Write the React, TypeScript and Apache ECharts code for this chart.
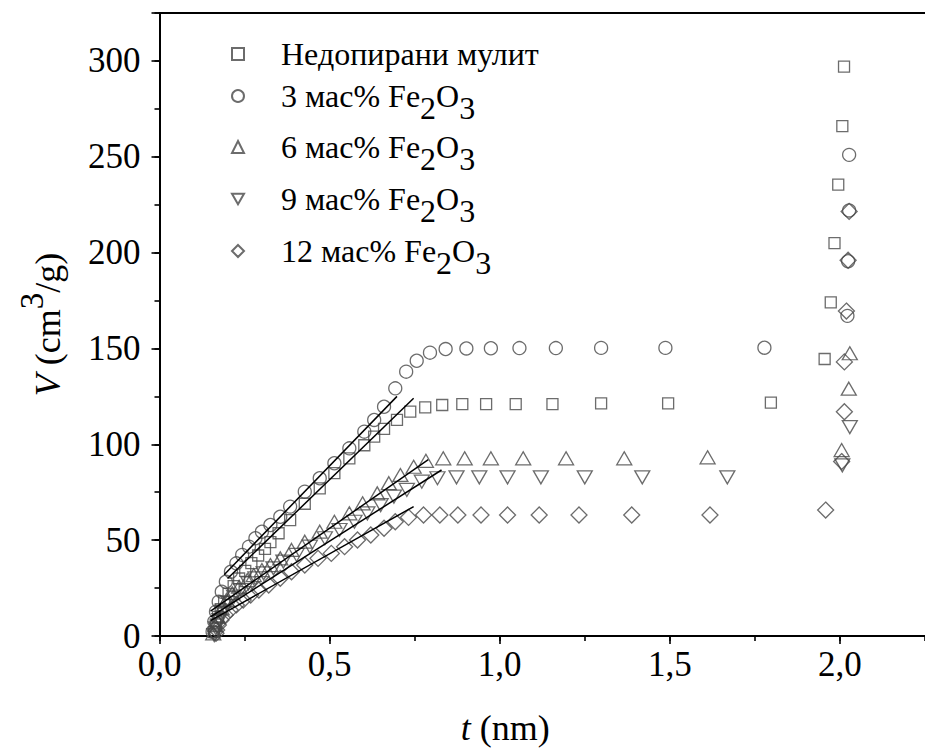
import React, { useEffect, useRef } from "react";
import * as echarts from "echarts";

const FONT = "'Liberation Serif', 'Times New Roman', serif";

// Series names
const seriesNames = [
  "Недопирани мулит",
  "3 мас% Fe2O3",
  "6 мас% Fe2O3",
  "9 мас% Fe2O3",
  "12 мас% Fe2O3",
];

// Недопирани мулит (squares)
const nedT = [0.16, 0.165, 0.172, 0.18, 0.19, 0.203, 0.218, 0.234, 0.252, 0.27, 0.29, 0.31, 0.326, 0.35, 0.384, 0.427, 0.471, 0.514, 0.558, 0.602, 0.631, 0.66, 0.698, 0.737, 0.781, 0.831, 0.89, 0.96, 1.047, 1.155, 1.298, 1.495, 1.797, 1.955, 1.973, 1.984, 1.995, 2.007, 2.012];
const nedV = [2, 6, 10, 14, 18, 22, 26, 30, 34, 38, 42, 45.5, 49, 53.6, 60.5, 69, 77, 85, 92.7, 99.5, 104, 108, 112.7, 117, 119.3, 120.5, 121, 121, 121, 121, 121.4, 121.4, 121.7, 144.5, 174, 205, 235.5, 266, 297];

// 3 мас% Fe2O3 (circles)
const fe3T = [0.156, 0.161, 0.166, 0.174, 0.183, 0.195, 0.21, 0.226, 0.243, 0.263, 0.282, 0.301, 0.326, 0.355, 0.384, 0.427, 0.471, 0.514, 0.558, 0.602, 0.631, 0.66, 0.693, 0.725, 0.756, 0.795, 0.841, 0.902, 0.974, 1.058, 1.165, 1.298, 1.487, 1.778, 2.022, 2.024, 2.027, 2.027];
const fe3V = [2.2, 7.5, 12.7, 17.9, 23.1, 28.3, 33.5, 37.9, 42.3, 46.6, 51, 54.4, 57.9, 62.2, 67.5, 75.3, 82.3, 90.1, 97.9, 106.6, 112.7, 119.6, 129.2, 137.9, 143.6, 147.8, 149.7, 150, 150.1, 150.2, 150.2, 150.3, 150.3, 150.4, 167, 195.5, 222, 251];

// 6 мас% Fe2O3 (triangles)
const fe6T = [0.158, 0.164, 0.171, 0.183, 0.197, 0.214, 0.234, 0.258, 0.277, 0.301, 0.326, 0.355, 0.388, 0.427, 0.471, 0.514, 0.558, 0.597, 0.64, 0.674, 0.708, 0.747, 0.783, 0.834, 0.897, 0.974, 1.069, 1.195, 1.366, 1.611, 2.005, 2.026, 2.029];
const fe6V = [1.4, 5.7, 10, 14.4, 18.8, 22.3, 25.7, 29.2, 31.8, 34.4, 37, 40.5, 44.9, 49.2, 54.4, 59.6, 64, 69.2, 74.4, 79.7, 84, 88.3, 91.4, 92.7, 92.7, 92.7, 92.7, 92.7, 92.7, 93.2, 97, 129, 147.5];

// 9 мас% Fe2O3 (inverted triangles)
const fe9T = [0.161, 0.166, 0.176, 0.187, 0.203, 0.219, 0.239, 0.261, 0.282, 0.306, 0.335, 0.364, 0.403, 0.442, 0.486, 0.529, 0.573, 0.611, 0.65, 0.689, 0.727, 0.771, 0.817, 0.873, 0.94, 1.023, 1.121, 1.25, 1.419, 1.669, 2.007, 2.029];
const fe9V = [0.5, 4, 8.3, 12.7, 17.1, 20.5, 24, 27.5, 30.1, 32.7, 35.3, 38.8, 42.3, 46.6, 51, 55.3, 59.6, 64, 68.3, 72.7, 76.2, 80.5, 82.3, 82.8, 82.8, 82.8, 82.8, 82.8, 82.8, 82.8, 89, 109];

// 12 мас% Fe2O3 (diamonds)
const fe12T = [0.166, 0.168, 0.173, 0.181, 0.193, 0.208, 0.226, 0.246, 0.268, 0.292, 0.321, 0.355, 0.388, 0.427, 0.466, 0.505, 0.544, 0.582, 0.621, 0.66, 0.693, 0.732, 0.776, 0.824, 0.877, 0.945, 1.023, 1.116, 1.233, 1.388, 1.618, 1.958, 2.005, 2.013, 2.013, 2.019, 2.024, 2.027];
const fe12V = [1.4, 3.1, 5.7, 8.3, 11, 13.6, 16.2, 18.8, 21.4, 24, 26.6, 30.1, 33.5, 37, 40.5, 43.1, 46.6, 50.1, 52.7, 56.2, 59.6, 61.9, 63.1, 63.1, 63.1, 63.1, 63.1, 63.1, 63.1, 63.1, 63.1, 65.7, 91, 117, 143, 169.5, 196, 221.5];

// Linear fits (t-plot), endpoints
const nedFitT = [0.2, 0.747];
const nedFitV = [30, 124];
const fe3FitT = [0.19, 0.698];
const fe3FitV = [32, 125];
const fe6FitT = [0.15, 0.79];
const fe6FitV = [13, 92];
const fe9FitT = [0.15, 0.829];
const fe9FitV = [10, 86.6];
const fe12FitT = [0.15, 0.747];
const fe12FitV = [8, 67.5];

// Axis ticks
const xMajorTicks = [0, 0.5, 1, 1.5, 2];
const yMajorTicks = [0, 50, 100, 150, 200, 250, 300];

const zip = (a: number[], b: number[]) => a.map((v, i) => [v, b[i]]);

export default function App() {
  const ref = useRef<HTMLDivElement>(null);
  useEffect(() => {
    const chart = echarts.init(ref.current!, null, { renderer: "svg" });

    const markerStyle = {
      color: "rgba(255,255,255,0)",
      borderColor: "#474747",
      borderWidth: 1.3,
    };
    const symbols: any[] = [
      { symbol: "rect", size: 11 },
      { symbol: "circle", size: 13 },
      { symbol: "triangle", size: [15, 13] },
      { symbol: "path://M0,0L14,0L7,12Z", size: [15, 13] },
      { symbol: "diamond", size: 16 },
    ];
    const dataT = [nedT, fe3T, fe6T, fe9T, fe12T];
    const dataV = [nedV, fe3V, fe6V, fe9V, fe12V];
    const fitT = [nedFitT, fe3FitT, fe6FitT, fe9FitT, fe12FitT];
    const fitV = [nedFitV, fe3FitV, fe6FitV, fe9FitV, fe12FitV];

    const scatterSeries = seriesNames.map((name, i) => ({
      type: "scatter",
      name,
      symbol: symbols[i].symbol,
      symbolSize: symbols[i].size,
      itemStyle: markerStyle,
      data: zip(dataT[i], dataV[i]),
      z: 2,
      silent: true,
    }));
    const fitSeries = seriesNames.map((name, i) => ({
      type: "line",
      name: "fit " + name,
      data: zip(fitT[i], fitV[i]),
      symbol: "none",
      lineStyle: { color: "#000", width: 1.5 },
      z: 3,
      silent: true,
    }));

    const txt = { fontFamily: FONT, color: "#000" };
    const LF = 32;
    const legendRich = {
      sp: { width: 32 },
      n: { ...txt, fontSize: LF, lineHeight: 34 },
      s: { ...txt, fontSize: LF, lineHeight: 34, padding: [24, 0, 0, 0] },
    };
    const legendFormatter = (name: string) => {
      if (name.indexOf("Fe2O3") >= 0) {
        const pre = name.replace(" Fe2O3", "");
        return `{sp|}{n|${pre} Fe}{s|2}{n|O}{s|3}`;
      }
      return `{sp|}{n|${name}}`;
    };
    const legendTops = [38, 68, 119, 171, 223];
    const legends = seriesNames.map((name, i) => ({
      data: [name],
      left: 231,
      top: legendTops[i],
      padding: 0,
      itemWidth: 12,
      itemHeight: 12,
      selectedMode: false,
      formatter: legendFormatter,
      textStyle: { ...txt, fontSize: LF, rich: legendRich },
    }));

    const axisLineStyle = { color: "#000", width: 2 };
    const tickStyle = { color: "#000", width: 1.6 };
    const TF = 35;
    const NF = 36;

    const option: any = {
      animation: false,
      backgroundColor: "#fff",
      grid: { left: 159.5, top: 13, width: 775, height: 623 },
      legend: legends,
      xAxis: [
        {
          type: "value",
          min: 0,
          max: 2.25,
          interval: 0.5,
          position: "bottom",
          axisLine: { lineStyle: axisLineStyle },
          axisTick: { length: 8, lineStyle: tickStyle, customValues: xMajorTicks },
          axisLabel: {
            customValues: xMajorTicks,
            margin: 11,
            fontSize: TF,
            ...txt,
            formatter: (v: number) => v.toFixed(1).replace(".", ","),
          },
          splitLine: { show: false },
          name: "{i|t}{n| (nm)}",
          nameLocation: "middle",
          nameGap: 74,
          nameTextStyle: {
            ...txt,
            fontSize: NF,
            padding: [0, 74, 0, 0],
            rich: {
              i: { ...txt, fontSize: NF, fontStyle: "italic" },
              n: { ...txt, fontSize: NF },
            },
          },
        },
        {
          type: "value",
          min: 0,
          max: 2.25,
          interval: 0.25,
          position: "bottom",
          axisLine: { show: false },
          axisTick: { length: 5, lineStyle: tickStyle },
          axisLabel: { show: false },
          splitLine: { show: false },
        },
        {
          type: "value",
          min: 0,
          max: 2.25,
          position: "top",
          axisLine: { lineStyle: axisLineStyle },
          axisTick: { show: false },
          axisLabel: { show: false },
          splitLine: { show: false },
        },
      ],
      yAxis: [
        {
          type: "value",
          min: 0,
          max: 325,
          interval: 50,
          position: "left",
          axisLine: { lineStyle: axisLineStyle },
          axisTick: { length: 8, lineStyle: tickStyle },
          axisLabel: {
            customValues: yMajorTicks,
            margin: 19,
            fontSize: TF,
            ...txt,
          },
          splitLine: { show: false },
          name: "{i|V}{n| (cm}{p|3}{n|/g)}",
          nameLocation: "middle",
          nameGap: 79,
          nameTextStyle: {
            ...txt,
            fontSize: NF,
            rich: {
              i: { ...txt, fontSize: NF, fontStyle: "italic" },
              n: { ...txt, fontSize: NF },
              p: { ...txt, fontSize: 33, padding: [0, 0, 32, 0] },
            },
          },
        },
        {
          type: "value",
          min: 0,
          max: 325,
          interval: 25,
          position: "left",
          axisLine: { show: false },
          axisTick: { length: 5, lineStyle: tickStyle },
          axisLabel: { show: false },
          splitLine: { show: false },
        },
      ],
      series: [...scatterSeries, ...fitSeries],
    };
    chart.setOption(option);
    return () => chart.dispose();
  }, []);
  return (
    <div
      ref={ref}
      style={{ position: "absolute", left: 0, top: 0, width: 925, height: 751, background: "#fff" }}
    />
  );
}
